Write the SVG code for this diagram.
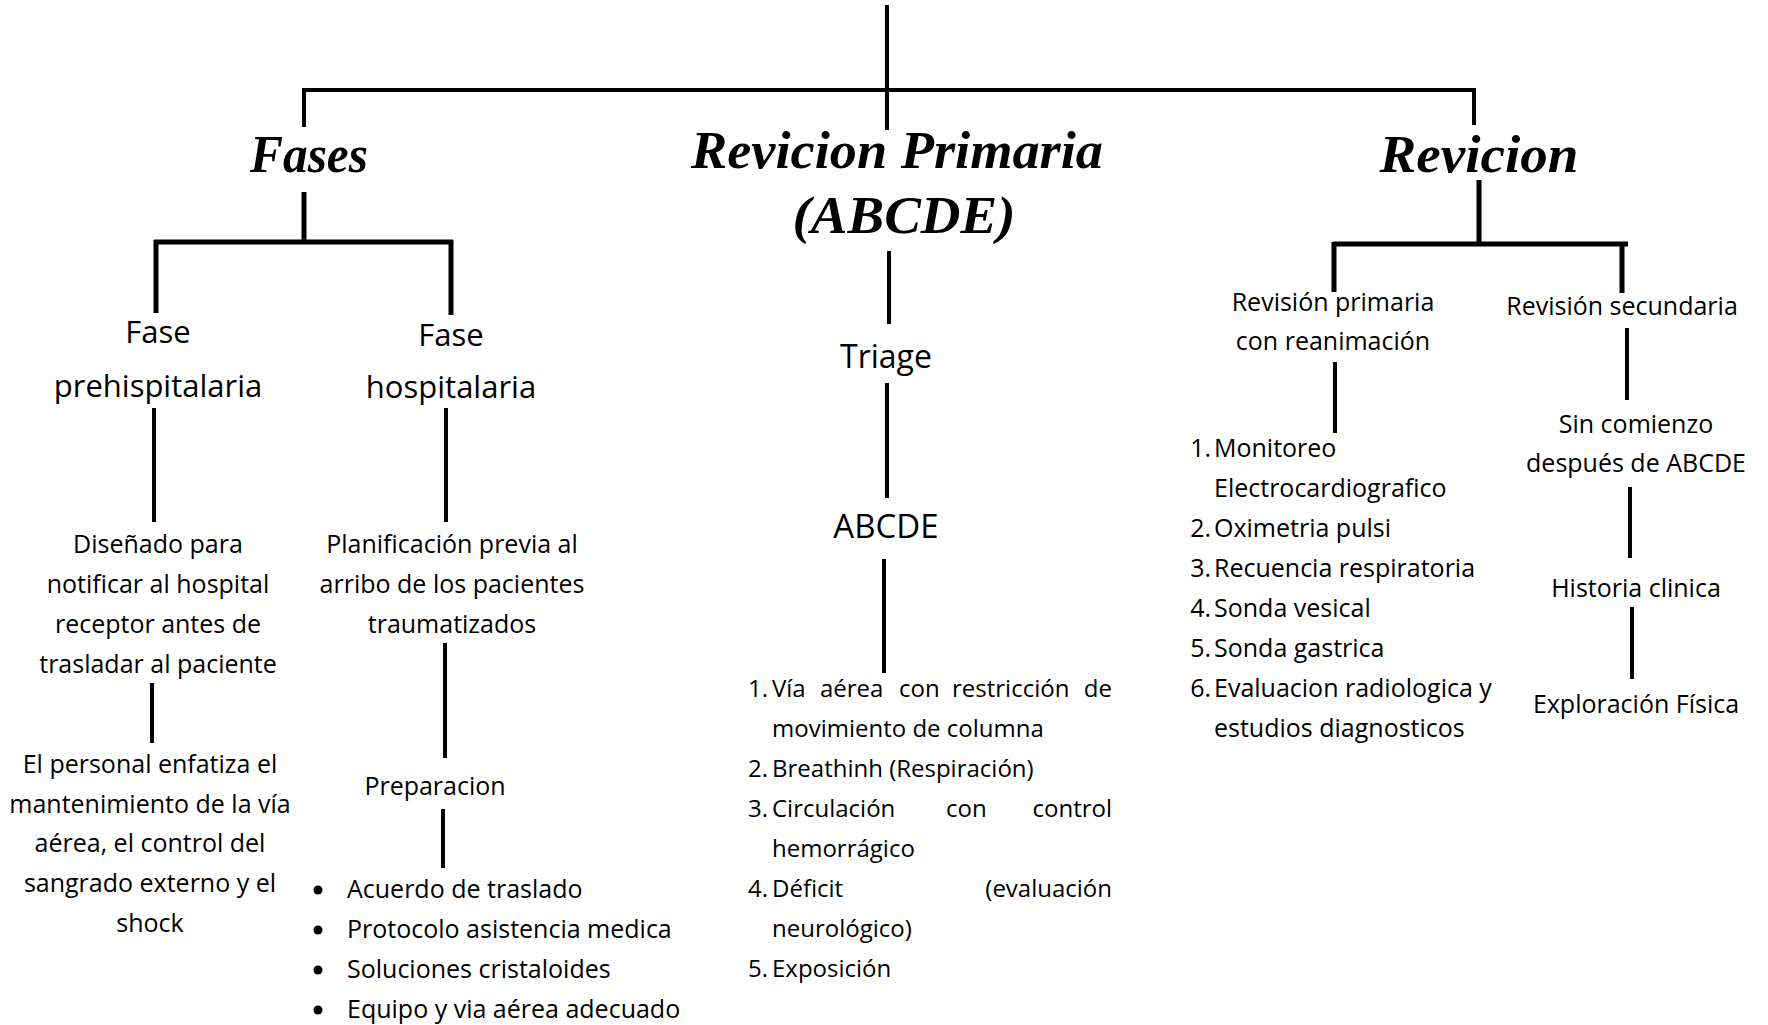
<svg xmlns="http://www.w3.org/2000/svg" width="1768" height="1025" viewBox="0 0 1768 1025">
<style>
.t{font-family:"Open Sans","Liberation Sans",sans-serif;fill:#000;}
.c{text-anchor:middle;}
.s24{font-size:24px;}
.s25{font-size:25px;}
.s31{font-size:31px;}
.s32{font-size:32px;}
.s33{font-size:33px;}
.title{font-family:"Liberation Serif","DejaVu Serif",serif;font-style:italic;font-weight:bold;font-size:52px;fill:#000;text-anchor:middle;}
.ln{stroke:#000;stroke-width:4;fill:none;stroke-linecap:butt;}
.e{text-anchor:end;}
</style>
<rect width="1768" height="1025" fill="#fff"/>
<g id="connectors" class="ln">
<path d="M887 5V130"/>
<path d="M304 90H1475M304 88V127M1474 88V125" />
<path d="M304 192V240M154 242H453M156 240V313M451 240V315" stroke-width="5"/>
<path d="M154 408V522M446 408V522"/>
<path d="M152 683V743M445 643V758M443 809V868"/>
<path d="M889 251V324M887 383V498M884 559V673"/>
<path d="M1479 180V242M1333 244H1628M1334 242V292M1622 242V293" stroke-width="5"/>
<path d="M1335 362V433M1627 328V400M1630 487V558M1632 607V679"/>
</g>
<g id="n-fases"><text class="title" x="309" y="172" textLength="118" lengthAdjust="spacingAndGlyphs">Fases</text></g>
<g id="n-revprim"><text class="title" x="897" y="168" textLength="412" lengthAdjust="spacingAndGlyphs">Revicion Primaria</text>
<text class="title" x="904" y="233" textLength="223" lengthAdjust="spacingAndGlyphs">(ABCDE)</text></g>
<g id="n-revicion"><text class="title" x="1479" y="172" textLength="199" lengthAdjust="spacingAndGlyphs">Revicion</text></g>
<g id="n-prehosp"><text class="t c s31" x="158" y="343">Fase</text><text class="t c s31" x="158" y="397">prehispitalaria</text></g>
<g id="n-hosp"><text class="t c s31" x="451" y="346">Fase</text><text class="t c s31" x="451" y="398">hospitalaria</text></g>
<g id="n-disenado" class="t c s25">
<text x="158" y="553">Diseñado para</text><text x="158" y="593">notificar al hospital</text><text x="158" y="633">receptor antes de</text><text x="158" y="673">trasladar al paciente</text></g>
<g id="n-personal" class="t c s25">
<text x="150" y="773">El personal enfatiza el</text><text x="150" y="813">mantenimiento de la vía</text><text x="150" y="852">aérea, el control del</text><text x="150" y="892">sangrado externo y el</text><text x="150" y="932">shock</text></g>
<g id="n-planif" class="t c s25">
<text x="452" y="553">Planificación previa al</text><text x="452" y="593">arribo de los pacientes</text><text x="452" y="633">traumatizados</text></g>
<g id="n-prep"><text class="t c s25" x="435" y="795">Preparacion</text></g>
<g id="n-bullets" class="t s25">
<circle cx="318" cy="890" r="4.5"/><text x="347" y="898">Acuerdo de traslado</text>
<circle cx="318" cy="930" r="4.5"/><text x="347" y="938">Protocolo asistencia medica</text>
<circle cx="318" cy="970" r="4.5"/><text x="347" y="978">Soluciones cristaloides</text>
<circle cx="318" cy="1010" r="4.5"/><text x="347" y="1018">Equipo y via aérea adecuado</text></g>
<g id="n-triage"><text class="t c s32" x="886" y="368">Triage</text></g>
<g id="n-abcde"><text class="t c s33" x="886" y="538">ABCDE</text></g>
<g id="n-abcde-list" class="t s24">
<text class="e" x="768" y="697">1.</text><text x="772" y="697">Vía</text><text x="820" y="697">aérea</text><text x="899" y="697">con</text><text x="952" y="697">restricción</text><text class="e" x="1112" y="697">de</text>
<text x="772" y="737">movimiento de columna</text>
<text class="e" x="768" y="777">2.</text><text x="772" y="777">Breathinh (Respiración)</text>
<text class="e" x="768" y="817">3.</text><text x="772" y="817">Circulación</text><text x="946" y="817">con</text><text class="e" x="1112" y="817">control</text>
<text x="772" y="857">hemorrágico</text>
<text class="e" x="768" y="897">4.</text><text x="772" y="897">Déficit</text><text class="e" x="1112" y="897">(evaluación</text>
<text x="772" y="937">neurológico)</text>
<text class="e" x="768" y="977">5.</text><text x="772" y="977">Exposición</text></g>
<g id="n-revprimreanim" class="t c s25"><text x="1333" y="311">Revisión primaria</text><text x="1333" y="350">con reanimación</text></g>
<g id="n-revsec"><text class="t c s25" x="1622" y="315">Revisión secundaria</text></g>
<g id="n-revprim-list" class="t s25">
<text class="e" x="1211" y="457">1.</text><text x="1214" y="457">Monitoreo</text>
<text x="1214" y="497">Electrocardiografico</text>
<text class="e" x="1211" y="537">2.</text><text x="1214" y="537">Oximetria pulsi</text>
<text class="e" x="1211" y="577">3.</text><text x="1214" y="577">Recuencia respiratoria</text>
<text class="e" x="1211" y="617">4.</text><text x="1214" y="617">Sonda vesical</text>
<text class="e" x="1211" y="657">5.</text><text x="1214" y="657">Sonda gastrica</text>
<text class="e" x="1211" y="697">6.</text><text x="1214" y="697">Evaluacion radiologica y</text>
<text x="1214" y="737">estudios diagnosticos</text></g>
<g id="n-sincom" class="t c s25"><text x="1636" y="433">Sin comienzo</text><text x="1636" y="472">después de ABCDE</text></g>
<g id="n-historia"><text class="t c s25" x="1636" y="597">Historia clinica</text></g>
<g id="n-explor"><text class="t c s25" x="1636" y="713">Exploración Física</text></g>
</svg>
